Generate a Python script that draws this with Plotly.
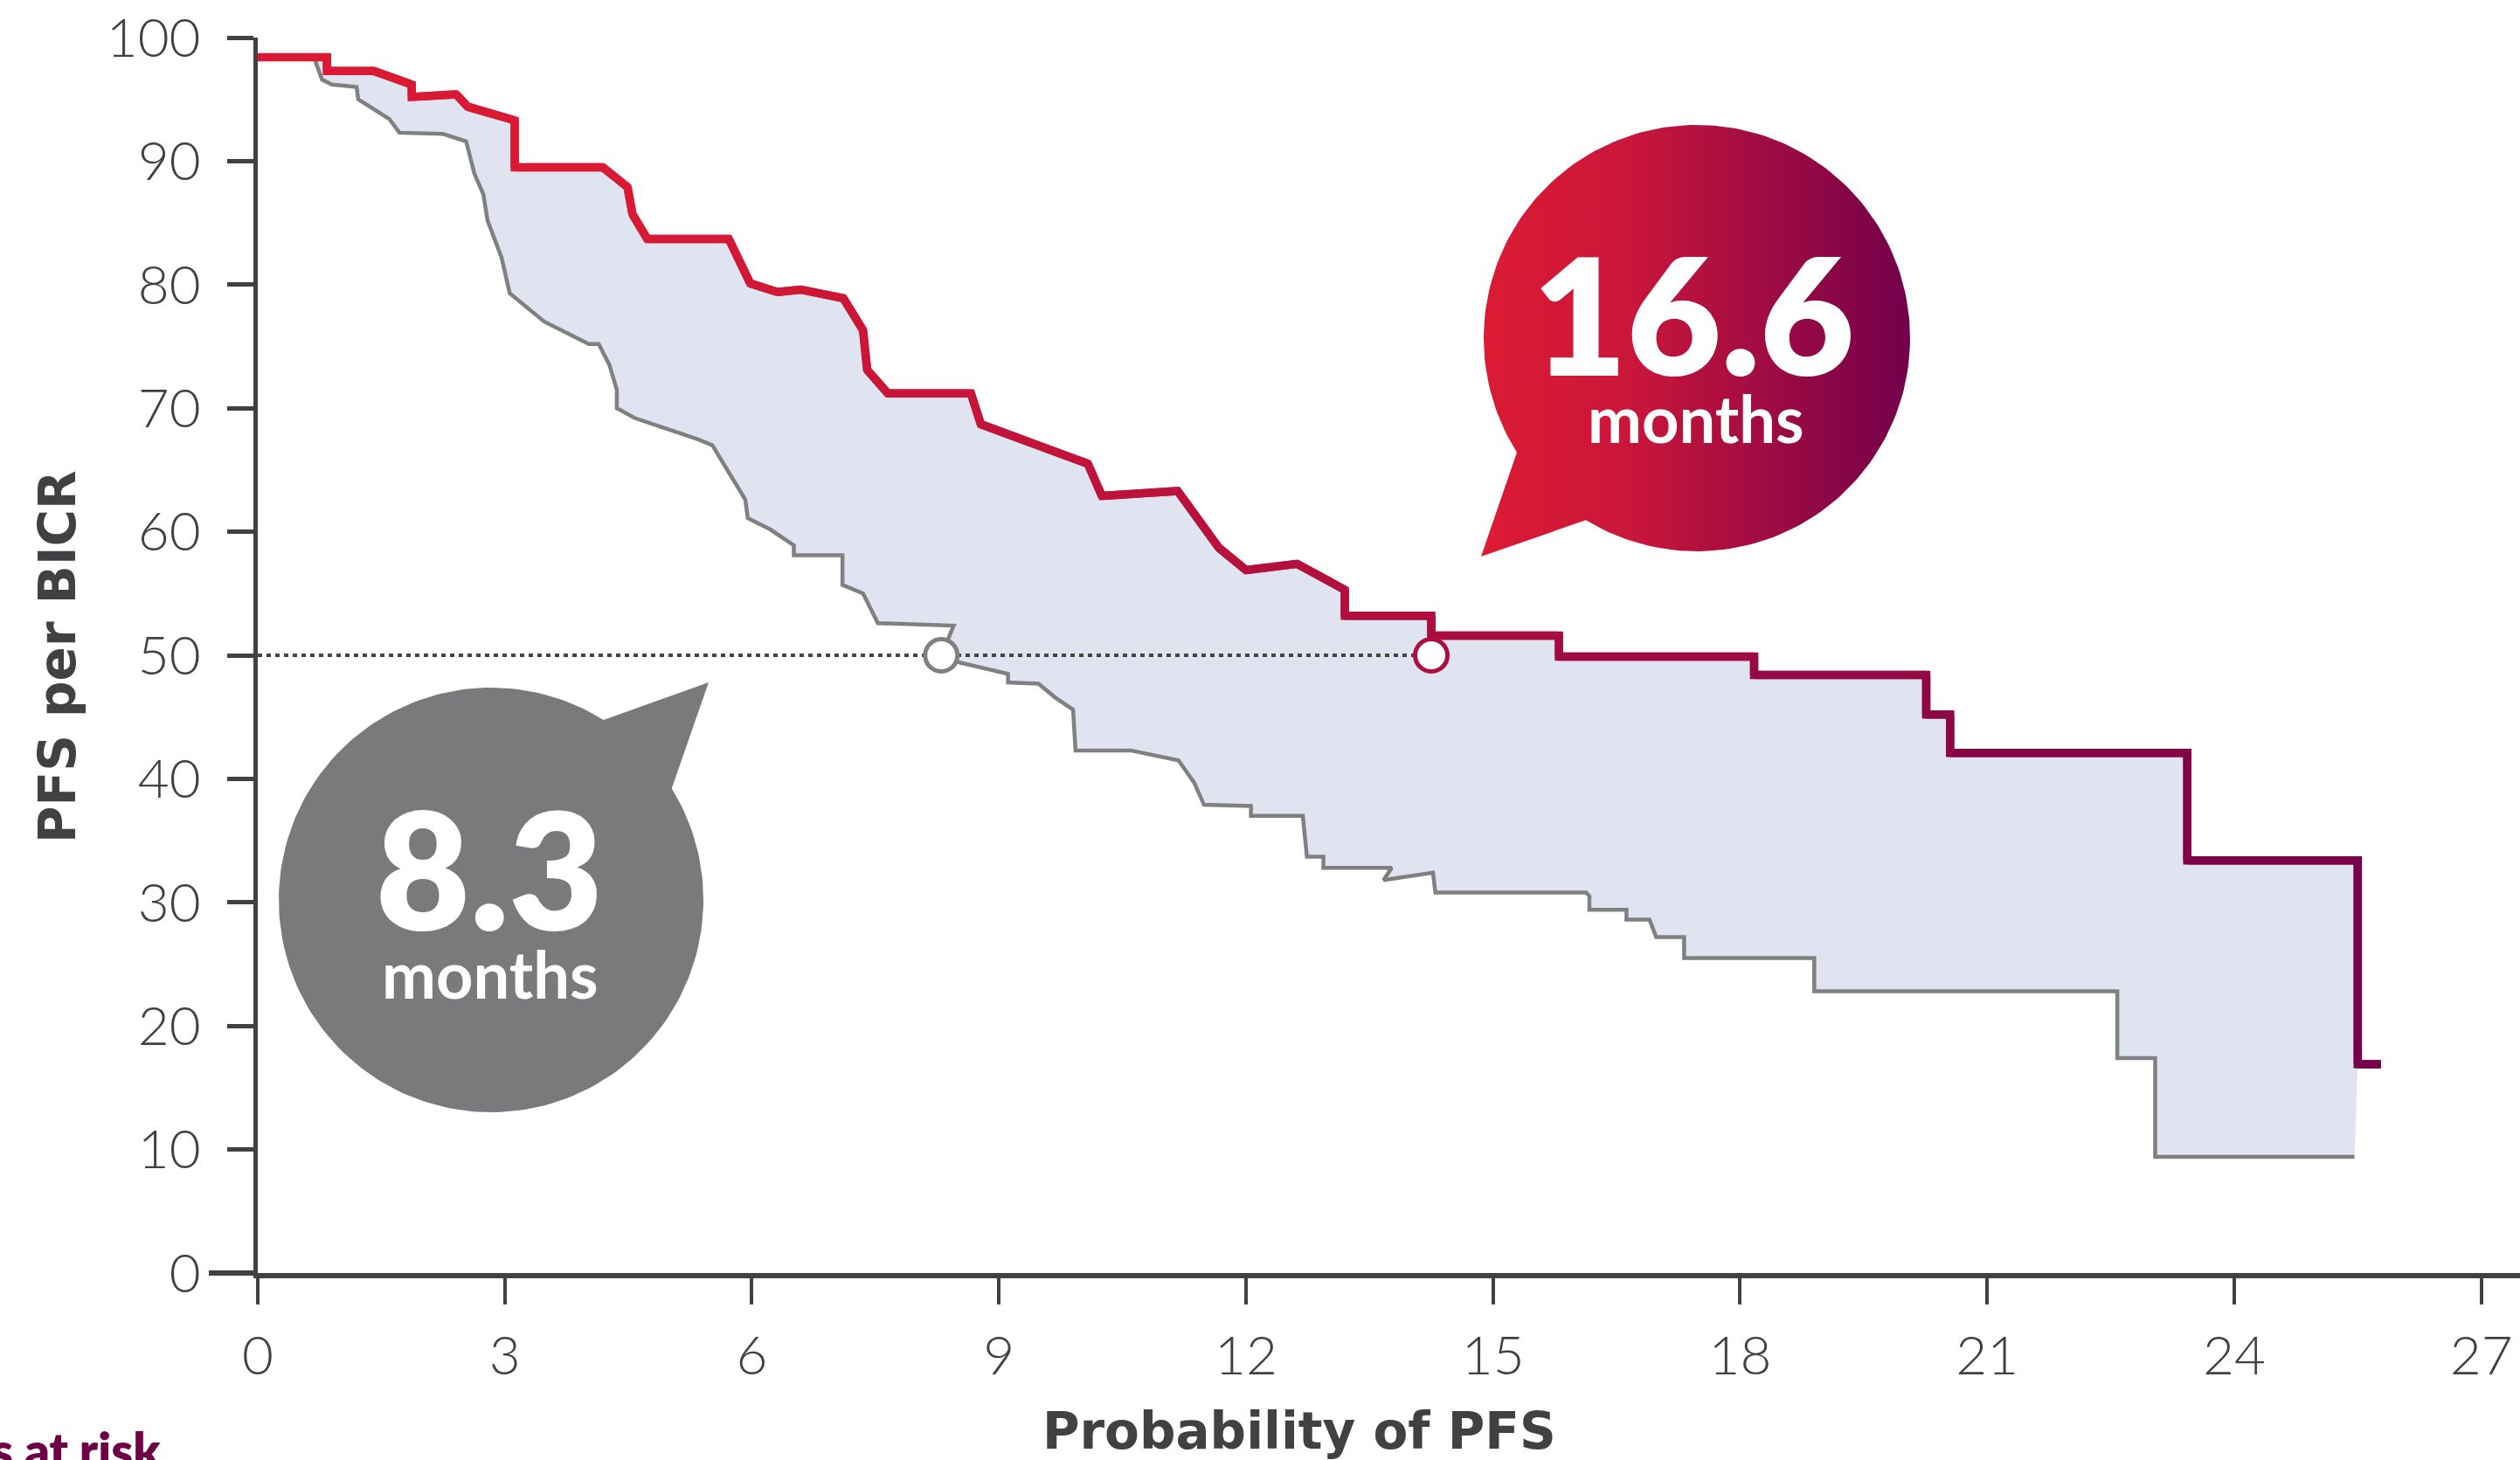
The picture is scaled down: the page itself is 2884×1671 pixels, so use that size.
import numpy as np
import plotly.graph_objects as go

# ---------------- data ----------------
x_ticks = [0, 3, 6, 9, 12, 15, 18, 21, 24, 27]
y_ticks = [0, 10, 20, 30, 40, 50, 60, 70, 80, 90, 100]

# upper (red) curve: months, PFS %
red_t = [0, 0.84, 0.84, 1.41, 1.87, 1.87, 2.41, 2.55, 3.12, 3.12, 4.19, 4.49, 4.55,
         4.73, 5.72, 5.98, 6.31, 6.59, 7.11, 7.35, 7.40, 7.65, 8.66, 8.78, 10.08,
         10.25, 11.17, 11.67, 12.0, 12.62, 13.2, 13.2, 14.25, 14.25, 15.8, 15.8,
         18.17, 18.17, 20.26, 20.26, 20.55, 20.55, 23.43, 23.43, 25.5, 25.5, 25.78]
red_s = [98.4, 98.4, 97.3, 97.3, 96.2, 95.2, 95.4, 94.4, 93.3, 89.5, 89.5, 87.9, 85.7,
         83.7, 83.7, 80.1, 79.4, 79.6, 78.9, 76.3, 73.1, 71.2, 71.2, 68.7, 65.5,
         62.9, 63.3, 58.7, 56.9, 57.4, 55.3, 53.2, 53.2, 51.6, 51.6, 49.9,
         49.9, 48.4, 48.4, 45.2, 45.2, 42.1, 42.1, 33.4, 33.4, 16.9, 16.9]

# lower (grey) curve
gray_t = [0, 0.68, 0.71, 0.78, 0.90, 1.20, 1.22, 1.60, 1.72, 2.25, 2.53, 2.63, 2.74,
          2.79, 2.96, 3.06, 3.48, 3.86, 4.02, 4.14, 4.27, 4.36, 4.36, 4.58, 5.34,
          5.52, 5.92, 5.95, 6.22, 6.51, 6.51, 7.10, 7.10, 7.35, 7.53, 8.45, 8.39,
          8.30, 8.53, 9.11, 9.11, 9.48, 9.68, 9.90, 9.93, 10.60, 11.18, 11.37, 11.49,
          12.06, 12.06, 12.69, 12.74, 12.94, 12.94, 13.77, 13.67, 14.27, 14.30, 16.13,
          16.17, 16.17, 16.62, 16.62, 16.90, 16.98, 17.32, 17.32, 18.9, 18.9, 22.58,
          22.58, 23.04, 23.04, 25.46]
gray_s = [98.4, 98.4, 97.9, 96.6, 96.2, 96.0, 95.0, 93.4, 92.3, 92.2, 91.6, 89.0, 87.3,
          85.2, 82.2, 79.3, 77.0, 75.7, 75.2, 75.2, 73.5, 71.5, 70.0, 69.2, 67.5,
          67.0, 62.6, 61.1, 60.2, 58.9, 58.1, 58.1, 55.7, 55.0, 52.6, 52.4, 51.4,
          50.0, 49.4, 48.5, 47.8, 47.7, 46.6, 45.6, 42.3, 42.3, 41.5, 39.7, 37.9,
          37.8, 37.0, 37.0, 33.7, 33.7, 32.8, 32.8, 31.8, 32.4, 30.8, 30.8,
          30.5, 29.4, 29.4, 28.6, 28.6, 27.2, 27.2, 25.5, 25.5, 22.8, 22.8,
          17.4, 17.4, 9.4, 9.4]

median_level = 50
median_t = [8.3, 14.25]          # where the markers sit on the drawn axis
median_labels = ["8.3", "16.6"]  # values printed in the bubbles

# ---------------- layout geometry ----------------
W, H = 2884, 1671
L, R, T, B = 295, 0, 43, 214
X_MAX = 27.47
PPM = (W - L - R) / X_MAX      # px per month
PPP = (H - T - B) / 100.0      # px per percent

DARK = "#414042"
RED0 = np.array([218, 26, 53])
RED1 = np.array([117, 0, 74])


def px_to_x(px):
    return (np.asarray(px) - L) / PPM


def py_to_y(py):
    return (H - B - np.asarray(py)) / PPP


def paper_x(px):
    return (px - L) / (W - L - R)


def paper_y(py):
    return (H - B - py) / (H - T - B)


def grad_color(month):
    px = L + month * PPM
    t = float(np.clip((px - 700) / (2725 - 700), 0, 1))
    c = RED0 + (RED1 - RED0) * t
    return "rgb(%d,%d,%d)" % tuple(np.round(c))


def bubble(cx, cy, r, a_from, a_to, tip):
    ang = np.radians(np.linspace(a_from, a_to, 200))
    xs = cx + r * np.cos(ang)
    ys = cy + r * np.sin(ang)
    xs = np.append(xs, [tip[0], xs[0]])
    ys = np.append(ys, [tip[1], ys[0]])
    return px_to_x(xs), py_to_y(ys)


fig = go.Figure()

# band between curves
n_red = len(red_t) - 1  # exclude the short tail
fill_x = list(gray_t) + list(reversed(red_t[:n_red]))
fill_y = list(gray_s) + list(reversed(red_s[:n_red]))
fig.add_trace(go.Scatter(x=fill_x, y=fill_y, mode="lines", fill="toself",
                         fillcolor="#E0E4F0", line=dict(width=0),
                         hoverinfo="skip", showlegend=False))

# grey curve
fig.add_trace(go.Scatter(x=gray_t, y=gray_s, mode="lines",
                         line=dict(color="#808082", width=4.5),
                         showlegend=False))

# median reference line
fig.add_trace(go.Scatter(x=[0, median_t[1]], y=[median_level, median_level], mode="lines",
                         line=dict(color="#444446", width=4, dash="5px,5px"),
                         hoverinfo="skip", showlegend=False))

# red curve with colour gradient (overlapping 3-point chunks)
for i in range(len(red_t) - 1):
    xs = red_t[i:i + 3]
    ys = red_s[i:i + 3]
    col = grad_color(0.5 * (red_t[i] + red_t[i + 1]))
    fig.add_trace(go.Scatter(x=xs, y=ys, mode="lines",
                             line=dict(color=col, width=9.5),
                             hoverinfo="skip", showlegend=False))

# median markers
fig.add_trace(go.Scatter(x=[median_t[0]], y=[median_level], mode="markers",
                         marker=dict(size=37, color="white",
                                     line=dict(color="#808082", width=5)),
                         showlegend=False))
fig.add_trace(go.Scatter(x=[median_t[1]], y=[median_level], mode="markers",
                         marker=dict(size=37, color="white",
                                     line=dict(color=grad_color(median_t[1]), width=5)),
                         showlegend=False))

# speech bubbles
bx, by = bubble(1942, 387, 244, 147.6, 481.4, (1695, 637))
fig.add_trace(go.Scatter(x=bx, y=by, mode="lines", fill="toself",
                         line=dict(width=0, color="rgba(0,0,0,0)"),
                         fillgradient=dict(type="horizontal",
                                           colorscale=[[0, "#DC1B33"], [0.35, "#C9163A"],
                                                       [1, "#72004B"]]),
                         hoverinfo="skip", showlegend=False))
gx, gy = bubble(562, 1030, 243, -31.7, 302.0, (811, 781))
fig.add_trace(go.Scatter(x=gx, y=gy, mode="lines", fill="toself",
                         fillcolor="#7A7A7C", line=dict(width=0, color="#7A7A7C"),
                         hoverinfo="skip", showlegend=False))

BIG = dict(family="Lato", size=186, color="white", weight=800)
SMALL = dict(family="Lato", size=74, color="white", weight=700)
TITLE = dict(family="DejaVu Sans", size=58, color=DARK, weight=700)
annotations = [
    dict(text=median_labels[1], x=paper_x(1938), y=paper_y(358), font=BIG),
    dict(text="months", x=paper_x(1941), y=paper_y(478), font=SMALL),
    dict(text=median_labels[0], x=paper_x(560), y=paper_y(993), font=BIG),
    dict(text="months", x=paper_x(561), y=paper_y(1114), font=SMALL),
    dict(text="PFS per BICR", x=paper_x(66), y=paper_y(752), textangle=-90, font=TITLE),
    dict(text="Probability of PFS", x=paper_x(1487), y=paper_y(1638), font=TITLE),
    dict(text="Patients at risk", x=paper_x(186), y=paper_y(1660), xanchor="right",
         font=dict(family="Lato", size=56, color="#6E0046", weight=800)),
]
for a in annotations:
    a.setdefault("xanchor", "center")
    a.update(xref="paper", yref="paper", yanchor="middle", showarrow=False)

fig.update_layout(
    width=W, height=H,
    margin=dict(l=L, r=R, t=T, b=B, pad=0),
    paper_bgcolor="white", plot_bgcolor="white",
    showlegend=False,
    annotations=annotations,
    shapes=[dict(type="line", xref="paper", yref="paper",
                 x0=paper_x(239), x1=0, y0=0, y1=0,
                 line=dict(color=DARK, width=6))],
    xaxis=dict(range=[0, X_MAX], tickvals=x_ticks, showgrid=False, zeroline=False,
               showline=True, linecolor=DARK, linewidth=6,
               ticks="outside", ticklen=30, tickwidth=4, tickcolor=DARK,
               ticklabelstandoff=6,
               tickfont=dict(family="Lato", size=62, color=DARK, weight=300)),
    yaxis=dict(range=[0, 100], tickvals=y_ticks, showgrid=False, zeroline=False,
               showline=True, linecolor=DARK, linewidth=5,
               ticks="outside", ticklen=30, tickwidth=5, tickcolor=DARK,
               ticklabelstandoff=18,
               tickfont=dict(family="Lato", size=62, color=DARK, weight=300)),
)

fig.write_html("out.html", config={"displayModeBar": False},
               post_script="document.body.style.margin='0';document.body.style.overflow='hidden';")
